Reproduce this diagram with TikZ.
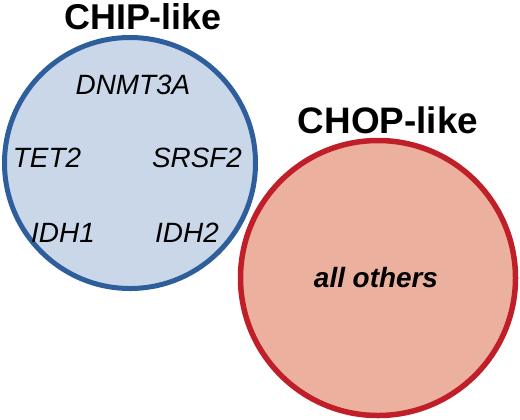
\documentclass[tikz,border=0pt]{standalone}
\usepackage{fontspec}
\setmainfont{Liberation Sans}
\usepackage{xcolor}
\definecolor{chipfill}{HTML}{CAD7E8}
\definecolor{chipline}{HTML}{2E5E9C}
\definecolor{chopfill}{HTML}{EBB09E}
\definecolor{chopline}{HTML}{C01F2A}

\begin{document}
\begin{tikzpicture}[
    x=1bp,
    y=-1bp,
    group/.style={
        circle,
        draw,
        inner sep=0pt
    },
    title/.style={
        anchor=base,
        inner sep=0pt,
        font=\fontsize{36}{40}\selectfont\bfseries
    },
    gene/.style={
        anchor=base,
        inner sep=0pt,
        font=\fontsize{28}{30}\selectfont\itshape
    }
]
    \useasboundingbox (0,0) rectangle (520,419);
    \node[group, fill=chipfill, draw=chipline, line width=5bp, minimum size=251bp] (chip) at (130,163) {};
    \node[group, fill=chopfill, draw=chopline, line width=5.5bp, minimum size=275bp] (chop) at (378,278) {};
    \node[title] (chiptitle) at (143,29) {CHIP-like};
    \node[title, font=\fontsize{37}{40}\selectfont\bfseries] (choptitle) at (388,133) {CHOP-like};
    \node[gene] (dnmt) at (133,94) {DNMT3A};
    \node[gene] (tet) at (47,167) {TET2};
    \node[gene] (srsf) at (197,167) {SRSF2};
    \node[gene] (idha) at (63,242) {IDH1};
    \node[gene] (idhb) at (187,242) {IDH2};
    \node[gene, font=\fontsize{28}{30}\selectfont\bfseries\itshape] (others) at (376,287) {all others};
\end{tikzpicture}
\end{document}
